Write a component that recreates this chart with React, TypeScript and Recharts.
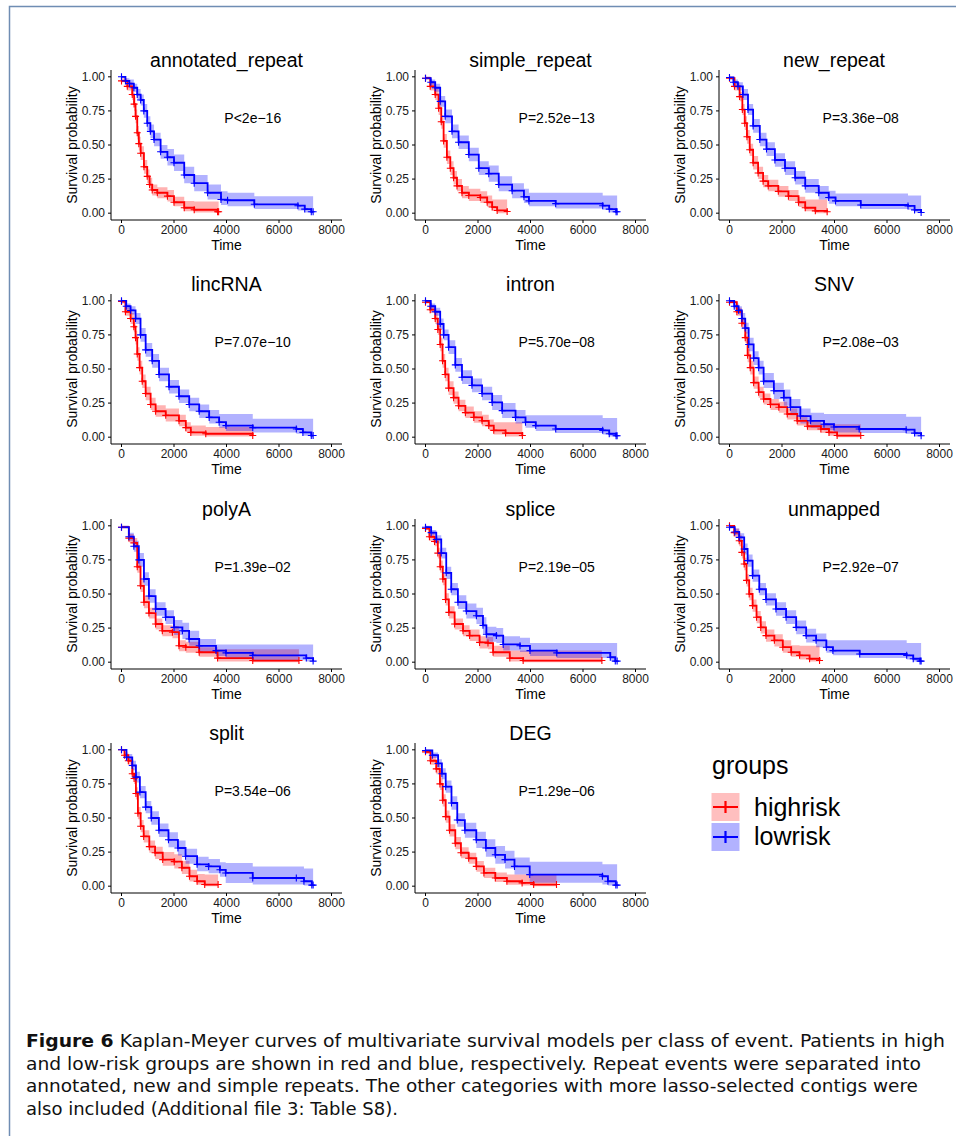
import { ComposedChart, Line, Area, XAxis, YAxis, ReferenceDot } from "recharts";

// each row: time, survival, lower CI, upper CI
type KM = [number, number, number, number][];

const titles = [
  "annotated_repeat", "simple_repeat", "new_repeat",
  "lincRNA", "intron", "SNV",
  "polyA", "splice", "unmapped",
  "split", "DEG",
];

const pValues = [
  "P<2e\u221216", "P=2.52e\u221213", "P=3.36e\u221208",
  "P=7.07e\u221210", "P=5.70e\u221208", "P=2.08e\u221203",
  "P=1.39e\u221202", "P=2.19e\u221205", "P=2.92e\u221207",
  "P=3.54e\u221206", "P=1.29e\u221206",
];

const timeTicks = [0, 2000, 4000, 6000, 8000];
const probTicks = [0, 0.25, 0.5, 0.75, 1];

const annotatedHigh: KM = [
  [0, 0.97, 0.96, 0.99], [220, 0.93, 0.9, 0.96], [410, 0.87, 0.83, 0.91], [480, 0.8, 0.75, 0.85],
  [535, 0.71, 0.66, 0.76], [600, 0.59, 0.54, 0.64], [660, 0.51, 0.46, 0.56], [730, 0.44, 0.39, 0.49],
  [855, 0.34, 0.29, 0.39], [980, 0.27, 0.22, 0.32], [1070, 0.21, 0.17, 0.26], [1170, 0.17, 0.13, 0.21],
  [1365, 0.15, 0.11, 0.19], [1750, 0.125, 0.085, 0.17], [2000, 0.08, 0.05, 0.12], [2390, 0.04, 0.015, 0.09],
  [2770, 0.025, 0.005, 0.085], [3660, 0.01, 0, 0.085], [3700, 0.01, 0, 0.085],
];
const annotatedLow: KM = [
  [0, 1, 1, 1], [150, 0.97, 0.95, 0.99], [300, 0.95, 0.92, 0.98], [470, 0.92, 0.89, 0.95],
  [600, 0.87, 0.83, 0.91], [730, 0.83, 0.79, 0.87], [850, 0.75, 0.7, 0.8], [980, 0.66, 0.61, 0.71],
  [1100, 0.6, 0.55, 0.65], [1240, 0.54, 0.49, 0.59], [1490, 0.45, 0.4, 0.5], [1750, 0.41, 0.35, 0.47],
  [2000, 0.37, 0.31, 0.43], [2390, 0.28, 0.22, 0.34], [2770, 0.22, 0.16, 0.28], [3280, 0.15, 0.1, 0.21],
  [3790, 0.1, 0.06, 0.16], [4040, 0.095, 0.05, 0.15], [5060, 0.065, 0.03, 0.125], [6720, 0.055, 0.02, 0.125],
  [6980, 0.03, 0.005, 0.125], [7230, 0.01, 0, 0.125], [7300, 0.01, 0, 0.125],
];

const simpleHigh: KM = [
  [0, 0.99, 0.98, 1], [180, 0.93, 0.9, 0.96], [370, 0.87, 0.83, 0.91], [500, 0.77, 0.72, 0.82],
  [600, 0.67, 0.62, 0.72], [690, 0.53, 0.48, 0.58], [815, 0.41, 0.36, 0.46], [945, 0.33, 0.28, 0.38],
  [1070, 0.26, 0.21, 0.31], [1200, 0.2, 0.16, 0.25], [1390, 0.15, 0.11, 0.2], [1650, 0.13, 0.09, 0.18],
  [2090, 0.115, 0.075, 0.16], [2350, 0.08, 0.045, 0.13], [2540, 0.045, 0.02, 0.1], [2730, 0.02, 0, 0.1],
  [3110, 0.012, 0, 0.1],
];
const simpleLow: KM = [
  [0, 0.99, 0.98, 1], [200, 0.96, 0.94, 0.98], [370, 0.92, 0.89, 0.95], [560, 0.82, 0.78, 0.86],
  [750, 0.71, 0.66, 0.76], [1010, 0.6, 0.55, 0.65], [1260, 0.52, 0.47, 0.57], [1650, 0.43, 0.38, 0.48],
  [2030, 0.33, 0.28, 0.38], [2410, 0.29, 0.23, 0.35], [2790, 0.21, 0.16, 0.27], [3300, 0.165, 0.11, 0.22],
  [3750, 0.12, 0.075, 0.18], [3940, 0.09, 0.05, 0.15], [4960, 0.07, 0.035, 0.15], [6750, 0.055, 0.025, 0.13],
  [7000, 0.03, 0.005, 0.13], [7260, 0.01, 0, 0.13], [7300, 0.01, 0, 0.13],
];

const newHigh: KM = [
  [0, 0.99, 0.98, 1], [190, 0.93, 0.9, 0.96], [385, 0.855, 0.82, 0.89], [490, 0.76, 0.72, 0.8],
  [580, 0.66, 0.61, 0.71], [665, 0.56, 0.51, 0.61], [770, 0.465, 0.42, 0.51], [900, 0.37, 0.32, 0.42],
  [1090, 0.295, 0.25, 0.34], [1280, 0.235, 0.19, 0.28], [1475, 0.2, 0.16, 0.245], [1860, 0.16, 0.12, 0.2],
  [2245, 0.125, 0.09, 0.17], [2630, 0.08, 0.045, 0.12], [2885, 0.04, 0.015, 0.1], [3270, 0.017, 0, 0.1],
  [3720, 0.01, 0, 0.1],
];
const newLow: KM = [
  [0, 0.995, 0.98, 1], [150, 0.96, 0.94, 0.98], [320, 0.93, 0.9, 0.96], [510, 0.87, 0.83, 0.91],
  [705, 0.76, 0.72, 0.8], [900, 0.64, 0.59, 0.69], [1155, 0.54, 0.49, 0.59], [1410, 0.47, 0.42, 0.52],
  [1730, 0.39, 0.34, 0.44], [2115, 0.33, 0.28, 0.38], [2500, 0.26, 0.21, 0.31], [2885, 0.2, 0.15, 0.25],
  [3400, 0.15, 0.1, 0.2], [3780, 0.115, 0.07, 0.165], [4040, 0.09, 0.05, 0.145], [5000, 0.06, 0.03, 0.145],
  [6800, 0.053, 0.025, 0.13], [7050, 0.024, 0.005, 0.13], [7300, 0.005, 0, 0.13],
];

const lincHigh: KM = [
  [0, 0.995, 0.98, 1], [150, 0.92, 0.89, 0.95], [345, 0.87, 0.83, 0.91], [470, 0.81, 0.77, 0.85],
  [535, 0.73, 0.68, 0.78], [600, 0.61, 0.56, 0.66], [690, 0.51, 0.46, 0.56], [790, 0.41, 0.36, 0.46],
  [920, 0.32, 0.27, 0.37], [1110, 0.24, 0.2, 0.29], [1300, 0.19, 0.15, 0.235], [1685, 0.16, 0.115, 0.21],
  [2190, 0.12, 0.08, 0.165], [2450, 0.07, 0.04, 0.11], [2640, 0.035, 0.01, 0.085], [3210, 0.025, 0.005, 0.075],
  [5000, 0.012, 0, 0.07],
];
const lincLow: KM = [
  [0, 1, 1, 1], [180, 0.96, 0.94, 0.98], [345, 0.93, 0.9, 0.96], [535, 0.87, 0.83, 0.91],
  [725, 0.75, 0.7, 0.8], [920, 0.64, 0.59, 0.69], [1170, 0.56, 0.51, 0.61], [1430, 0.46, 0.41, 0.51],
  [1810, 0.37, 0.32, 0.42], [2190, 0.3, 0.25, 0.35], [2580, 0.24, 0.19, 0.29], [2960, 0.19, 0.14, 0.24],
  [3340, 0.145, 0.1, 0.2], [3720, 0.11, 0.07, 0.17], [3980, 0.085, 0.045, 0.17], [5000, 0.07, 0.035, 0.135],
  [6660, 0.06, 0.025, 0.135], [6910, 0.035, 0.01, 0.135], [7230, 0.012, 0, 0.135], [7300, 0.012, 0, 0.135],
];

const intronHigh: KM = [
  [0, 0.99, 0.98, 1], [180, 0.935, 0.91, 0.96], [370, 0.87, 0.83, 0.91], [470, 0.79, 0.75, 0.83],
  [560, 0.68, 0.63, 0.73], [650, 0.56, 0.51, 0.61], [750, 0.46, 0.41, 0.51], [880, 0.36, 0.31, 0.41],
  [1070, 0.29, 0.245, 0.335], [1260, 0.23, 0.19, 0.275], [1520, 0.18, 0.14, 0.225], [1840, 0.145, 0.105, 0.19],
  [2155, 0.12, 0.08, 0.165], [2410, 0.085, 0.05, 0.13], [2600, 0.05, 0.02, 0.11], [3050, 0.03, 0.005, 0.11],
  [3690, 0.012, 0, 0.11],
];
const intronLow: KM = [
  [0, 1, 1, 1], [200, 0.96, 0.94, 0.98], [370, 0.92, 0.89, 0.95], [560, 0.83, 0.79, 0.87],
  [690, 0.75, 0.71, 0.79], [880, 0.66, 0.61, 0.71], [1135, 0.53, 0.48, 0.58], [1390, 0.44, 0.39, 0.49],
  [1770, 0.38, 0.33, 0.43], [2155, 0.32, 0.27, 0.37], [2540, 0.255, 0.2, 0.31], [2920, 0.195, 0.14, 0.25],
  [3430, 0.145, 0.1, 0.2], [3810, 0.11, 0.07, 0.16], [4200, 0.085, 0.045, 0.16], [4960, 0.06, 0.03, 0.16],
  [6750, 0.05, 0.02, 0.14], [7000, 0.025, 0.005, 0.14], [7260, 0.01, 0, 0.14], [7300, 0.01, 0, 0.14],
];

const snvHigh: KM = [
  [0, 0.99, 0.98, 1], [280, 0.92, 0.89, 0.95], [470, 0.835, 0.8, 0.87], [600, 0.73, 0.69, 0.77],
  [690, 0.6, 0.55, 0.65], [790, 0.51, 0.46, 0.56], [920, 0.4, 0.355, 0.445], [1110, 0.33, 0.29, 0.37],
  [1300, 0.28, 0.24, 0.32], [1560, 0.24, 0.2, 0.28], [1880, 0.22, 0.18, 0.26], [2200, 0.17, 0.13, 0.21],
  [2580, 0.12, 0.085, 0.16], [2970, 0.08, 0.05, 0.12], [3480, 0.06, 0.03, 0.1], [3790, 0.035, 0.01, 0.095],
  [4100, 0.012, 0, 0.095], [5000, 0.012, 0, 0.095],
];
const snvLow: KM = [
  [0, 1, 1, 1], [180, 0.96, 0.94, 0.98], [345, 0.93, 0.9, 0.96], [470, 0.87, 0.83, 0.91],
  [600, 0.8, 0.76, 0.84], [730, 0.68, 0.63, 0.73], [920, 0.58, 0.53, 0.63], [1110, 0.51, 0.46, 0.56],
  [1300, 0.41, 0.36, 0.47], [1690, 0.34, 0.28, 0.4], [2070, 0.29, 0.23, 0.35], [2320, 0.22, 0.16, 0.28],
  [2700, 0.155, 0.1, 0.21], [3090, 0.12, 0.07, 0.18], [3600, 0.095, 0.05, 0.17], [3980, 0.075, 0.035, 0.17],
  [4940, 0.06, 0.03, 0.17], [6730, 0.055, 0.025, 0.15], [7050, 0.03, 0.005, 0.15], [7300, 0.01, 0, 0.15],
];

const polyHigh: KM = [
  [0, 0.99, 0.98, 1], [280, 0.91, 0.88, 0.94], [470, 0.875, 0.84, 0.91], [600, 0.7, 0.655, 0.745],
  [725, 0.56, 0.515, 0.605], [855, 0.44, 0.395, 0.485], [1045, 0.36, 0.32, 0.4], [1300, 0.28, 0.24, 0.32],
  [1555, 0.23, 0.19, 0.27], [1940, 0.22, 0.175, 0.265], [2190, 0.12, 0.08, 0.16], [2450, 0.11, 0.07, 0.15],
  [2960, 0.073, 0.04, 0.11], [3660, 0.03, 0.005, 0.095], [5000, 0.012, 0, 0.095], [6760, 0.012, 0, 0.095],
];
const polyLow: KM = [
  [0, 0.99, 0.98, 1], [280, 0.92, 0.89, 0.95], [470, 0.85, 0.81, 0.89], [660, 0.75, 0.7, 0.8],
  [855, 0.61, 0.56, 0.66], [1045, 0.485, 0.435, 0.535], [1300, 0.39, 0.34, 0.44], [1680, 0.33, 0.28, 0.38],
  [2000, 0.255, 0.2, 0.31], [2320, 0.23, 0.17, 0.29], [2575, 0.17, 0.12, 0.23], [2960, 0.12, 0.075, 0.17],
  [3600, 0.085, 0.045, 0.13], [3980, 0.068, 0.03, 0.13], [5000, 0.05, 0.015, 0.13], [7040, 0.03, 0.005, 0.13],
  [7300, 0.008, 0, 0.13],
];

const spliceHigh: KM = [
  [0, 0.98, 0.97, 0.99], [150, 0.92, 0.89, 0.95], [345, 0.885, 0.85, 0.92], [470, 0.8, 0.76, 0.84],
  [560, 0.7, 0.655, 0.745], [660, 0.61, 0.565, 0.655], [765, 0.46, 0.415, 0.505], [890, 0.365, 0.32, 0.41],
  [1110, 0.28, 0.24, 0.32], [1430, 0.23, 0.19, 0.27], [1680, 0.195, 0.155, 0.24], [2060, 0.145, 0.1, 0.19],
  [2380, 0.14, 0.095, 0.185], [2575, 0.073, 0.04, 0.12], [3210, 0.03, 0.005, 0.085], [3720, 0.012, 0, 0.085],
  [6720, 0.012, 0, 0.085],
];
const spliceLow: KM = [
  [0, 0.99, 0.98, 1], [215, 0.95, 0.93, 0.97], [410, 0.9, 0.87, 0.93], [600, 0.8, 0.76, 0.84],
  [790, 0.655, 0.61, 0.7], [980, 0.535, 0.49, 0.58], [1235, 0.44, 0.39, 0.49], [1555, 0.375, 0.32, 0.43],
  [1940, 0.34, 0.28, 0.4], [2190, 0.27, 0.21, 0.33], [2320, 0.205, 0.15, 0.26], [2700, 0.195, 0.14, 0.25],
  [2960, 0.13, 0.085, 0.19], [3600, 0.12, 0.075, 0.18], [3980, 0.085, 0.045, 0.14], [5000, 0.068, 0.03, 0.14],
  [7040, 0.036, 0.01, 0.14], [7230, 0.008, 0, 0.14], [7300, 0.008, 0, 0.14],
];

const unmappedHigh: KM = [
  [0, 1, 0.99, 1], [180, 0.95, 0.92, 0.98], [370, 0.89, 0.85, 0.93], [470, 0.805, 0.76, 0.85],
  [560, 0.72, 0.675, 0.765], [650, 0.6, 0.555, 0.645], [750, 0.5, 0.455, 0.545], [880, 0.415, 0.37, 0.46],
  [1030, 0.33, 0.285, 0.375], [1190, 0.255, 0.21, 0.3], [1390, 0.195, 0.15, 0.24], [1710, 0.16, 0.115, 0.205],
  [2030, 0.11, 0.07, 0.16], [2350, 0.073, 0.04, 0.125], [2670, 0.05, 0.02, 0.12], [3050, 0.025, 0.005, 0.12],
  [3430, 0.012, 0, 0.12],
];
const unmappedLow: KM = [
  [0, 0.99, 0.98, 1], [200, 0.955, 0.93, 0.98], [370, 0.915, 0.885, 0.945], [560, 0.83, 0.79, 0.87],
  [690, 0.745, 0.7, 0.79], [880, 0.635, 0.59, 0.68], [1135, 0.535, 0.49, 0.58], [1390, 0.46, 0.415, 0.505],
  [1770, 0.39, 0.34, 0.44], [2155, 0.33, 0.28, 0.38], [2540, 0.255, 0.205, 0.305], [2920, 0.195, 0.145, 0.245],
  [3300, 0.16, 0.11, 0.21], [3690, 0.11, 0.07, 0.16], [3940, 0.085, 0.05, 0.16], [4960, 0.06, 0.03, 0.16],
  [6750, 0.05, 0.02, 0.14], [7000, 0.025, 0.005, 0.14], [7260, 0.008, 0, 0.14], [7300, 0.008, 0, 0.14],
];

const splitHigh: KM = [
  [0, 1, 0.99, 1], [115, 0.96, 0.94, 0.98], [260, 0.92, 0.89, 0.95], [410, 0.825, 0.785, 0.865],
  [480, 0.79, 0.75, 0.83], [550, 0.68, 0.635, 0.725], [625, 0.535, 0.49, 0.58], [730, 0.44, 0.395, 0.485],
  [845, 0.365, 0.32, 0.41], [1060, 0.29, 0.245, 0.335], [1280, 0.245, 0.2, 0.29], [1570, 0.195, 0.15, 0.25],
  [2010, 0.18, 0.13, 0.235], [2300, 0.135, 0.09, 0.185], [2590, 0.073, 0.035, 0.12], [2880, 0.036, 0.01, 0.09],
  [3170, 0.012, 0, 0.085], [3680, 0.012, 0, 0.085],
];
const splitLow: KM = [
  [0, 1, 1, 1], [190, 0.945, 0.92, 0.97], [410, 0.885, 0.85, 0.92], [550, 0.8, 0.76, 0.84],
  [700, 0.69, 0.645, 0.735], [920, 0.58, 0.535, 0.625], [1135, 0.5, 0.45, 0.55], [1425, 0.41, 0.36, 0.46],
  [1790, 0.34, 0.285, 0.395], [2150, 0.28, 0.225, 0.335], [2440, 0.22, 0.165, 0.275], [2880, 0.16, 0.11, 0.215],
  [3320, 0.145, 0.095, 0.2], [3750, 0.12, 0.07, 0.175], [3970, 0.097, 0.024, 0.17], [5000, 0.06, 0.012, 0.145],
  [6660, 0.06, 0.012, 0.145], [6950, 0.036, 0.005, 0.13], [7250, 0.008, 0, 0.13], [7300, 0.008, 0, 0.13],
];

const degHigh: KM = [
  [0, 0.985, 0.97, 1], [190, 0.92, 0.89, 0.95], [410, 0.86, 0.82, 0.9], [550, 0.75, 0.705, 0.795],
  [655, 0.63, 0.585, 0.675], [770, 0.51, 0.465, 0.555], [915, 0.41, 0.365, 0.455], [1135, 0.315, 0.27, 0.36],
  [1350, 0.245, 0.205, 0.285], [1645, 0.205, 0.165, 0.245], [1935, 0.145, 0.105, 0.185], [2225, 0.097, 0.06, 0.135],
  [2660, 0.06, 0.03, 0.1], [3100, 0.036, 0.01, 0.085], [3680, 0.024, 0.005, 0.085], [4120, 0.012, 0, 0.085],
  [4990, 0.012, 0, 0.085],
];
const degLow: KM = [
  [0, 0.995, 0.98, 1], [260, 0.96, 0.94, 0.98], [480, 0.9, 0.87, 0.93], [625, 0.825, 0.785, 0.865],
  [770, 0.73, 0.685, 0.775], [990, 0.61, 0.56, 0.66], [1210, 0.485, 0.435, 0.535], [1500, 0.41, 0.355, 0.465],
  [1935, 0.34, 0.28, 0.4], [2300, 0.28, 0.215, 0.345], [2660, 0.23, 0.165, 0.295], [3030, 0.195, 0.13, 0.26],
  [3390, 0.145, 0.085, 0.21], [3970, 0.085, 0.025, 0.18], [6740, 0.073, 0.012, 0.16], [6950, 0.036, 0.005, 0.16],
  [7250, 0.008, 0, 0.16], [7300, 0.008, 0, 0.16],
];

const highCurves = [annotatedHigh, simpleHigh, newHigh, lincHigh, intronHigh, snvHigh, polyHigh, spliceHigh, unmappedHigh, splitHigh, degHigh];
const lowCurves = [annotatedLow, simpleLow, newLow, lincLow, intronLow, snvLow, polyLow, spliceLow, unmappedLow, splitLow, degLow];

const captionLines = [
  "Kaplan-Meyer curves of multivariate survival models per class of event. Patients in high",
  "and low-risk groups are shown in red and blue, respectively. Repeat events were separated into",
  "annotated, new and simple repeats. The other categories with more lasso-selected contigs were",
  "also included (Additional file 3: Table S8).",
];

const RED = "#ff0000";
const BLUE = "#0000ff";
const FONT = "'Liberation Sans', Arial, Helvetica, sans-serif";

// plot-area left edges / top edges on the page
const colLeft = [111, 415, 718.5];
const rowTop = [70, 294, 518.5, 742.5];

const rows = (km: KM) => km.map(([t, s, lo, hi]) => ({ t, s, band: [lo, hi] }));

const plus = (color: string) => (p: any) => {
  if (p.cx == null || p.cy == null) return <g key={p.index} />;
  return (
    <path key={p.index} d={`M${p.cx - 3.5},${p.cy}h7M${p.cx},${p.cy - 3.5}v7`} stroke={color} strokeWidth={1.1} fill="none" />
  );
};

function KmPanel({ i }: { i: number }) {
  const left = colLeft[i % 3];
  const top = rowTop[Math.floor(i / 3)];
  const hi = rows(highCurves[i]);
  const lo = rows(lowCurves[i]);
  const pval = pValues[i];
  return (
    <div style={{ position: "absolute", left: left - 50, top: top - 19, width: 300, height: 204 }}>
      <div style={{ position: "absolute", left: 50, top: 0, width: 231, textAlign: "center", fontSize: 19.5, lineHeight: "19.5px", color: "#000" }}>
        {titles[i]}
      </div>
      <div style={{ position: "absolute", left: 0, top: 14 }}>
        <ComposedChart width={300} height={190} margin={{ top: 5, right: 19, bottom: 5, left: 0 }}>
          <XAxis
            dataKey="t" type="number" domain={[-400, 8400]} ticks={timeTicks} interval={0}
            tickSize={3} height={30} stroke="#000" allowDataOverflow
            tick={{ fontSize: 12, fill: "#1a1a1a" }}
            label={{ value: "Time", position: "insideBottom", offset: 0, fontSize: 14, fill: "#000" }}
          />
          <YAxis
            type="number" domain={[-0.05, 1.05]} ticks={probTicks} interval={0} tickSize={3} tickMargin={3}
            width={50} stroke="#000" allowDataOverflow tickFormatter={(v: number) => v.toFixed(2)}
            tick={{ fontSize: 12, fill: "#1a1a1a" }}
            label={{ value: "Survival probability", angle: -90, position: "insideLeft", offset: 11.5, fontSize: 14, fill: "#000", style: { textAnchor: "middle" } }}
          />
          <Area data={hi} dataKey="band" type="stepAfter" stroke="none" fill={RED} fillOpacity={0.3} isAnimationActive={false} />
          <Area data={lo} dataKey="band" type="stepAfter" stroke="none" fill={BLUE} fillOpacity={0.3} isAnimationActive={false} />
          <Line data={hi} dataKey="s" type="stepAfter" stroke={RED} strokeWidth={1.8} dot={plus(RED)} activeDot={false} isAnimationActive={false} />
          <Line data={lo} dataKey="s" type="stepAfter" stroke={BLUE} strokeWidth={1.8} dot={plus(BLUE)} activeDot={false} isAnimationActive={false} />
          <ReferenceDot
            x={5000} y={0.7} r={0}
            shape={(p: any) => (
              <text x={p.cx} y={p.cy + 5} textAnchor="middle" fontSize={14} fill="#000">{pval}</text>
            )}
          />
        </ComposedChart>
      </div>
    </div>
  );
}

export default function App() {
  return (
    <div style={{ position: "absolute", left: 0, top: 0, width: 956, height: 1136, background: "#fff", fontFamily: FONT, overflow: "hidden" }}>
      <svg width={956} height={1136} style={{ position: "absolute", left: 0, top: 0 }}>
        <path d="M9.5,1136V6.5H956" stroke="#6f8db3" strokeWidth={1.5} fill="none" />
        {/* legend */}
        <text x={712} y={774} fontSize={25} fill="#000">groups</text>
        <rect x={711.5} y={793} width={28} height={28} fill={RED} fillOpacity={0.25} />
        <path d="M713,807H738M725.5,801V813" stroke={RED} strokeWidth={2.2} />
        <text x={754} y={816} fontSize={25} fill="#000">highrisk</text>
        <rect x={711.5} y={823} width={28} height={28} fill={BLUE} fillOpacity={0.3} />
        <path d="M713,837H738M725.5,831V843" stroke={BLUE} strokeWidth={2.2} />
        <text x={754} y={845} fontSize={25} fill="#000">lowrisk</text>
        {/* caption */}
        <g fontFamily="'DejaVu Sans Condensed', 'Liberation Sans Narrow', 'DejaVu Sans', sans-serif" fontSize={18} fill="#111">
          <text x={26} y={1047} textLength={919} lengthAdjust="spacingAndGlyphs">
            <tspan fontWeight="bold">Figure 6</tspan>{"  " + captionLines[0]}
          </text>
          <text x={26} y={1069.5} textLength={895} lengthAdjust="spacingAndGlyphs">{captionLines[1]}</text>
          <text x={26} y={1092} textLength={892} lengthAdjust="spacingAndGlyphs">{captionLines[2]}</text>
          <text x={26} y={1114.5} textLength={372} lengthAdjust="spacingAndGlyphs">{captionLines[3]}</text>
        </g>
      </svg>
      {titles.map((_, i) => <KmPanel key={i} i={i} />)}
    </div>
  );
}
